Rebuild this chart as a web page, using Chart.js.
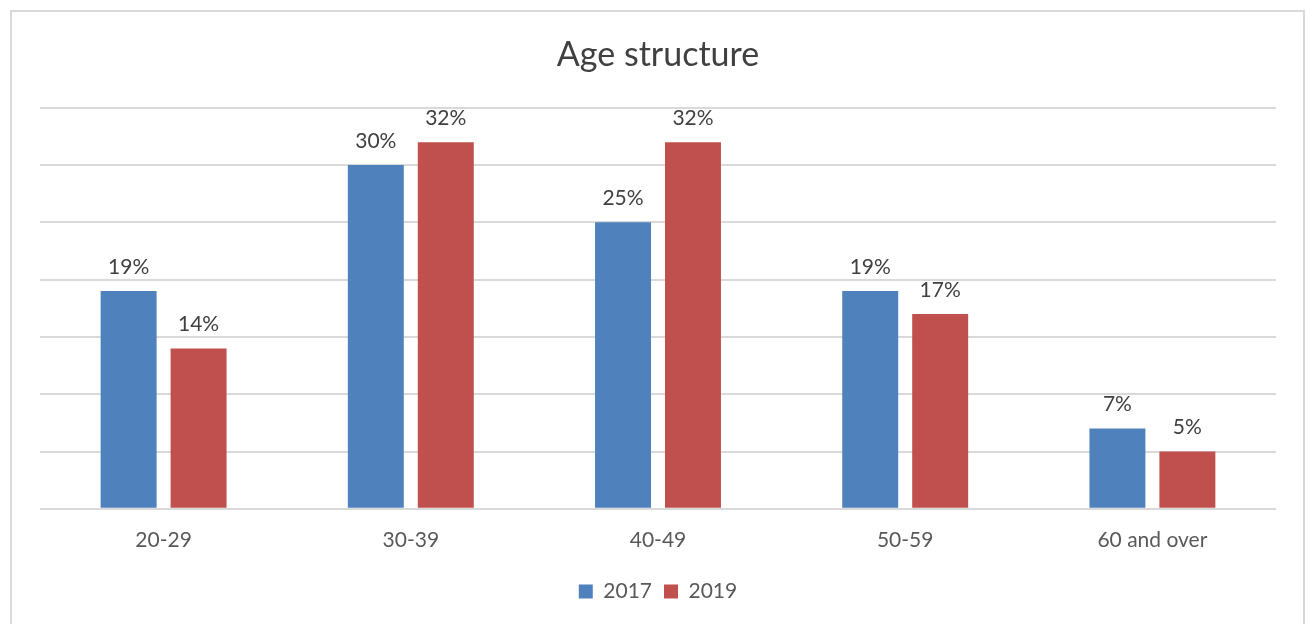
<!DOCTYPE html>
<html>
<head>
<meta charset="utf-8">
<script src="https://cdn.jsdelivr.net/npm/chart.js@4.4.0/dist/chart.umd.min.js"></script>
<style>
  body { margin: 0; background: #fff; overflow: hidden; }
  #frame {
    position: absolute; left: 10px; top: 10px; width: 1291px; height: 700px;
    border: 2px solid #d9d9d9; border-bottom: none;
  }
  #mycanvas { position: absolute; left: 0; top: 0; }
</style>
</head>
<body>
<div id="frame"></div>
<canvas id="mycanvas" width="1306" height="624"></canvas>
<script>
var ageGroups = ['20-29', '30-39', '40-49', '50-59', '60 and over'];
var share2017 = [19, 30, 25, 19, 7];
var share2019 = [14, 32, 32, 17, 5];
var yMax = 35;
var yStep = 5;

var FONT = 'Lato, "Open Sans", sans-serif';

// percent labels above each bar
var valueLabels = {
	id: 'valueLabels',
	afterDatasetsDraw: function(chart) {
		var ctx = chart.ctx;
		ctx.save();
		ctx.font = '21px ' + FONT;
		ctx.fillStyle = '#404040';
		ctx.textAlign = 'center';
		ctx.textBaseline = 'middle';
		chart.data.datasets.forEach(function(ds, i) {
			chart.getDatasetMeta(i).data.forEach(function(bar, j) {
				ctx.fillText(ds.data[j] + '%', bar.x, bar.y - 24);
			});
		});
		ctx.restore();
	}
};

var chartdata = {
	labels: ageGroups,
	datasets: [
		{
			label: '2017',
			backgroundColor: '#4f81bd',
			data: share2017
		},
		{
			label: '2019',
			backgroundColor: '#c0504d',
			data: share2019
		}
	]
};

var ctx = document.getElementById('mycanvas');

var barGraph = new Chart(ctx, {
	type: 'bar',
	data: chartdata,
	plugins: [valueLabels],
	options: {
		responsive: false,
		animation: false,
		categoryPercentage: 0.566,
		barPercentage: 0.8,
		layout: { padding: { left: 40, right: 30, top: 0, bottom: 12 } },
		scales: {
			x: {
				grid: { display: false },
				border: { display: false },
				ticks: { color: '#595959', font: { family: FONT, size: 21 }, padding: 11 },
				afterFit: function(scale) { scale.height += 5; }
			},
			y: {
				min: 0,
				max: yMax,
				ticks: { display: false, stepSize: yStep },
				border: { display: false },
				grid: { color: '#d9d9d9', lineWidth: 2, drawTicks: false }
			}
		},
		plugins: {
			title: {
				display: true,
				text: 'Age structure',
				color: '#404040',
				font: { family: FONT, size: 34, weight: 'normal' },
				padding: { top: 35, bottom: 32 }
			},
			legend: {
				position: 'bottom',
				labels: {
					color: '#595959',
					font: { family: FONT, size: 21 },
					boxWidth: 14,
					boxHeight: 14,
					padding: 12
				}
			},
			tooltip: { enabled: false }
		}
	}
});
</script>
</body>
</html>
